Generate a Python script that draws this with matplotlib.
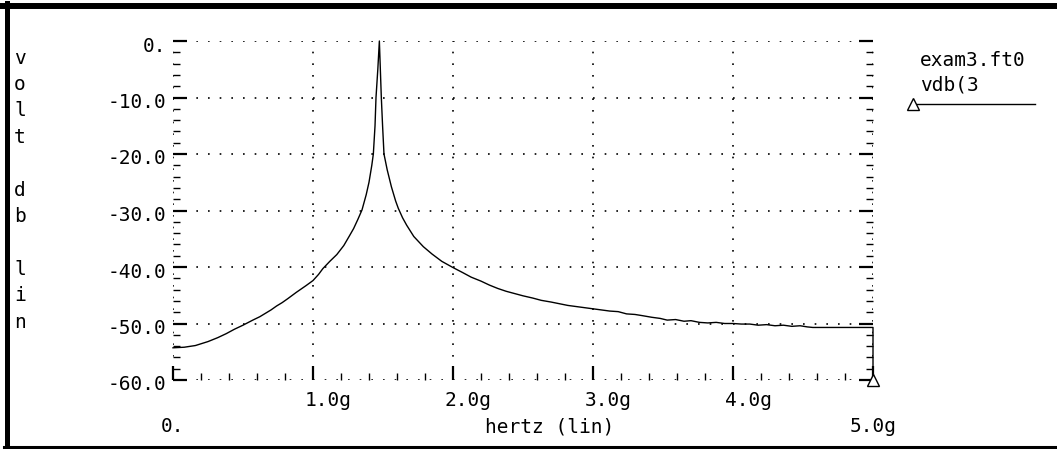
import matplotlib
matplotlib.use("Agg")
import matplotlib.pyplot as plt
from matplotlib.lines import Line2D
from matplotlib.ticker import MultipleLocator
from matplotlib.transforms import ScaledTranslation, blended_transform_factory

# trace: frequency in GHz, level in dB
freq_ghz = [0.00, 0.08, 0.16, 0.25, 0.32, 0.38, 0.44, 0.50, 0.57, 0.62,
            0.66, 0.70, 0.74, 0.78, 0.82, 0.88, 0.95, 1.00, 1.04, 1.07,
            1.12, 1.17, 1.22, 1.26, 1.29, 1.32, 1.35, 1.38, 1.40, 1.42,
            1.431, 1.443, 1.45, 1.463, 1.474, 1.481, 1.488, 1.497, 1.507, 1.53,
            1.56, 1.59, 1.609, 1.64, 1.669, 1.72, 1.788, 1.85, 1.92, 2.00,
            2.07, 2.13, 2.20, 2.26, 2.32, 2.38, 2.44, 2.50, 2.57, 2.63,
            2.70, 2.76, 2.82, 2.88, 2.94, 3.00, 3.06, 3.12, 3.18, 3.24,
            3.30, 3.35, 3.42, 3.48, 3.53, 3.59, 3.65, 3.70, 3.76, 3.82,
            3.88, 3.94, 4.00, 4.06, 4.12, 4.18, 4.24, 4.30, 4.36, 4.42,
            4.48, 4.53, 4.57, 4.66, 4.75, 4.85, 4.95, 5.00, 5.00]
vdb = [-54.3, -54.2, -53.9, -53.2, -52.5, -51.8, -51.0, -50.3, -49.4, -48.8,
       -48.2, -47.6, -46.9, -46.3, -45.6, -44.5, -43.3, -42.4, -41.3, -40.3,
       -39.0, -37.8, -36.2, -34.5, -33.2, -31.6, -29.9, -27.2, -25.0, -22.0,
       -20.0, -15.0, -10.0, -5.0, 0.0, -5.0, -10.0, -15.0, -20.0, -22.8,
       -25.8, -28.3, -29.6, -31.3, -32.6, -34.6, -36.4, -37.7, -39.0, -40.1,
       -41.0, -41.8, -42.5, -43.2, -43.8, -44.3, -44.7, -45.1, -45.5, -45.9,
       -46.2, -46.5, -46.8, -47.0, -47.2, -47.4, -47.6, -47.8, -47.9, -48.3,
       -48.4, -48.6, -48.9, -49.1, -49.4, -49.3, -49.6, -49.5, -49.8, -49.9,
       -49.8, -50.0, -50.0, -50.1, -50.1, -50.3, -50.2, -50.4, -50.3, -50.5,
       -50.4, -50.6, -50.7, -50.7, -50.7, -50.7, -50.7, -50.7, -60.0]

x_ticks = [0, 1, 2, 3, 4, 5]
x_labels = ["0.", "1.0g", "2.0g", "3.0g", "4.0g", "5.0g"]
y_ticks = [0, -10, -20, -30, -40, -50, -60]
y_labels = ["0.", "-10.0", "-20.0", "-30.0", "-40.0", "-50.0", "-60.0"]
ylabel_letters = ["v", "o", "l", "t", "", "d", "b", "", "l", "i", "n"]

W, H = 1057, 449
fig = plt.figure(figsize=(W / 100, H / 100), dpi=100)
fig.patch.set_facecolor("white")
mono = "DejaVu Sans Mono"
fs = 14


def fx(px):
    return px / W


def fy(py):
    return 1 - py / H


ax = fig.add_axes([fx(173), fy(380), fx(873) - fx(173), fy(41) - fy(380)])
ax.set_xlim(0, 5)
ax.set_ylim(-60, 0)
for s in ax.spines.values():
    s.set_visible(False)

ax.set_xticks(x_ticks)
ax.set_yticks(y_ticks)
ax.xaxis.set_minor_locator(MultipleLocator(0.2))
ax.yaxis.set_minor_locator(MultipleLocator(2))
ax.tick_params(which="both", direction="in", left=True, right=True,
               bottom=True, top=False, labelleft=False, labelbottom=False,
               color="black")
ax.tick_params(which="major", length=10, width=1.6)
ax.tick_params(which="minor", length=5, width=1.0)
ax.grid(True, which="major", color="black", linewidth=1.2,
        linestyle=(0, (1, 6)))

ax.plot(freq_ghz, vdb, color="black", linewidth=1.0, clip_on=False,
        marker="^", markevery=[len(vdb) - 1], markersize=8.5,
        markerfacecolor="white", markeredgecolor="black", markeredgewidth=1.0,
        zorder=5)

# tick labels
down = ScaledTranslation(0, -0.05, fig.dpi_scale_trans)
for v, lab in zip(y_ticks, y_labels):
    tr = blended_transform_factory(ax.transAxes, ax.transData)
    ax.text(-0.01, v, lab, transform=tr + down, ha="right", va="center",
            family=mono, fontsize=fs)

trx = blended_transform_factory(ax.transData, ax.transAxes)
for v, lab in zip(x_ticks, x_labels):
    if v in (0, 5):
        off = ScaledTranslation(0, -0.47, fig.dpi_scale_trans)
    else:
        off = ScaledTranslation(0.15, -0.20, fig.dpi_scale_trans)
    ax.text(v, 0, lab, transform=trx + off, ha="center", va="center",
            family=mono, fontsize=fs)

fig.text(fx(550), fy(427), "hertz (lin)", ha="center", va="center",
         family=mono, fontsize=fs)

# stacked y label
for i, ch in enumerate(ylabel_letters):
    if ch:
        fig.text(fx(20), fy(58 + 26.4 * i), ch, ha="center", va="center",
                 family=mono, fontsize=fs)

# legend block
fig.text(fx(920), fy(60), "exam3.ft0", ha="left", va="center",
         family=mono, fontsize=fs)
fig.text(fx(920), fy(85), "vdb(3", ha="left", va="center",
         family=mono, fontsize=fs)
fig.add_artist(Line2D([fx(913), fx(1035)], [fy(104), fy(104)],
                      color="black", linewidth=1.0))
fig.add_artist(Line2D([fx(913)], [fy(104)], marker="^", markersize=8.5,
                      markerfacecolor="white", markeredgecolor="black",
                      markeredgewidth=1.0, linestyle="none"))

# window frame
fig.add_artist(Line2D([0, 1], [fy(6), fy(6)], color="black", linewidth=4.3))
fig.add_artist(Line2D([fx(6.5), fx(6.5)], [fy(3), fy(447.5)], color="black",
                      linewidth=3.6))
fig.add_artist(Line2D([fx(4), 1], [fy(446.5), fy(446.5)], color="black",
                      linewidth=2.2))

fig.savefig("out.png", dpi=100, facecolor="white")
